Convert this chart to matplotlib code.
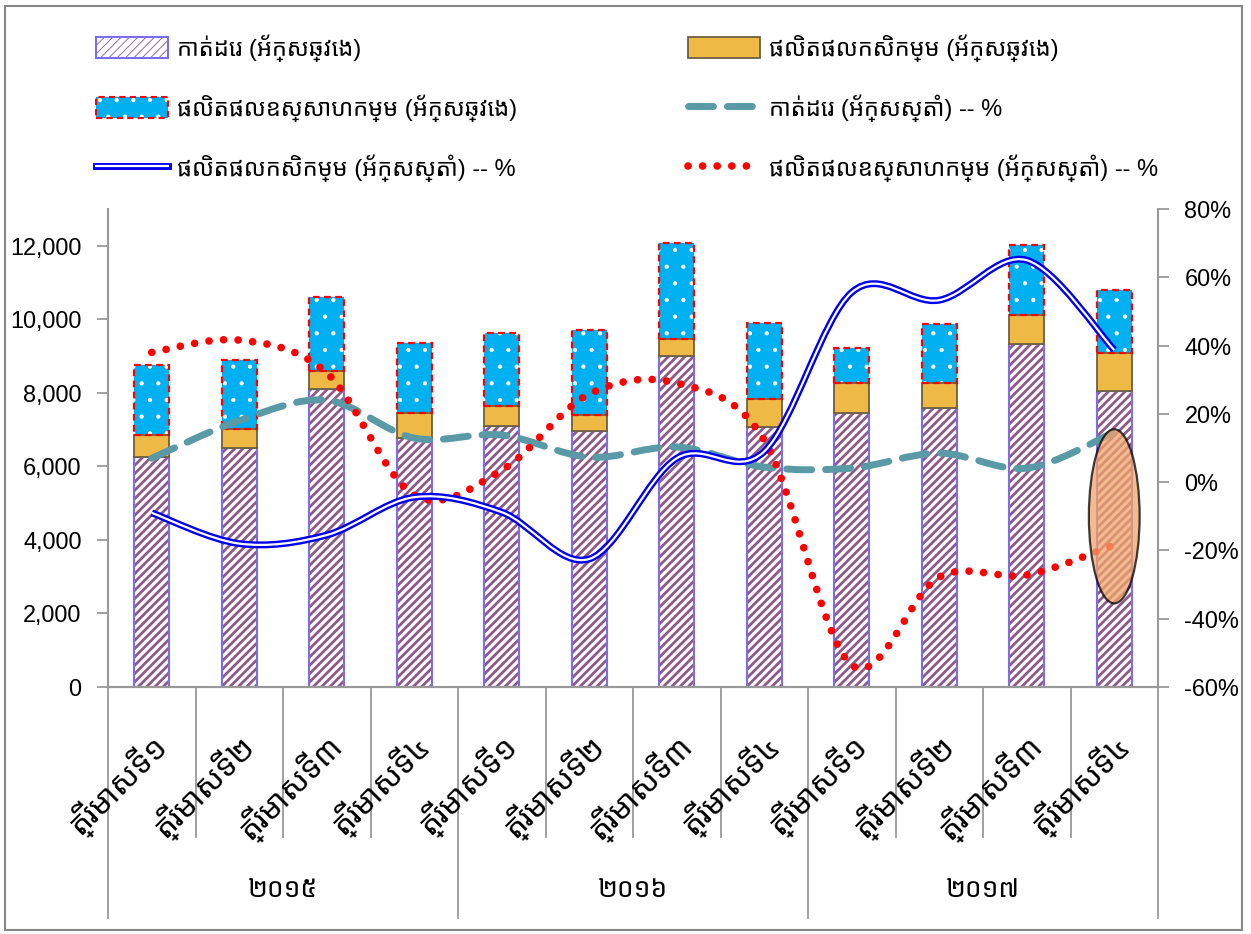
import numpy as np
import matplotlib
matplotlib.use("Agg")
import matplotlib.pyplot as plt
from matplotlib import font_manager
from matplotlib.path import Path
from matplotlib.patches import PathPatch, Patch, Ellipse, Rectangle
from matplotlib.lines import Line2D
from matplotlib.legend_handler import HandlerTuple
import matplotlib.patheffects as pe
from matplotlib.ticker import FuncFormatter, MultipleLocator

# data
quarters = ["ត្រីមាសទី១", "ត្រីមាសទី២", "ត្រីមាសទី៣", "ត្រីមាសទី៤"] * 3
years = ["២០១៥", "២០១៦", "២០១៧"]

garment = [6250, 6510, 8110, 6780, 7110, 6970, 9010, 7080, 7440, 7600, 9340, 8060]
agri = [600, 520, 490, 680, 540, 440, 460, 740, 840, 680, 790, 1030]
industry = [1900, 1850, 2010, 1900, 1980, 2310, 2600, 2090, 950, 1600, 1900, 1710]

garment_g = [7, 18, 24, 12.9, 13.8, 7.3, 10.3, 4.4, 4.1, 8.5, 4.1, 14.6]
agri_g = [-9, -18, -15.5, -4.4, -8.8, -22.5, 7, 9, 55.6, 53.3, 65, 38.7]
industry_g = [38, 41.6, 32, -3.8, 3.5, 25.8, 29, 12.3, -53.6, -27.8, -27.2, -18.4]

labels = ["កាត់ដេរ (អ័ក្សឆ្វេង)", "ផលិតផលកសិកម្ម (អ័ក្សឆ្វេង)",
          "ផលិតផលឧស្សាហកម្ម (អ័ក្សឆ្វេង)", "កាត់ដេរ (អ័ក្សស្តាំ) -- %",
          "ផលិតផលកសិកម្ម (អ័ក្សស្តាំ) -- %", "ផលិតផលឧស្សាហកម្ម (អ័ក្សស្តាំ) -- %"]


def find_khmer_font():
    try:
        from fontTools.ttLib import TTFont
    except ImportError:
        return None
    found = []
    for path in font_manager.findSystemFonts():
        try:
            f = TTFont(path, fontNumber=0, lazy=True)
            cmap = f.getBestCmap()
            if cmap and 0x1780 in cmap:
                found.append(path)
        except Exception:
            continue
    if not found:
        return None

    def rank(p):
        low = p.lower()
        score = 0
        if "khmer" in low:
            score -= 10
        if "sans" in low:
            score -= 2
        if "bold" in low or "mono" in low or "unifont" in low:
            score += 5
        return score

    path = sorted(found, key=rank)[0]
    font_manager.fontManager.addfont(path)
    return font_manager.FontProperties(fname=path).get_name()


def installed(name):
    try:
        font_manager.findfont(name, fallback_to_default=False)
        return True
    except Exception:
        return False


khmer = find_khmer_font()
fams = [f for f in ("Liberation Sans Narrow", "Liberation Sans") if installed(f)][:1]
if khmer:
    fams.append(khmer)
fams.append("DejaVu Sans")
plt.rcParams["font.family"] = fams


def smooth_path(xs, ys):
    # Excel-like smoothed line as cubic bezier segments through the points
    pts = np.column_stack([xs, ys]).astype(float)
    n = len(pts)
    verts = [pts[0]]
    codes = [Path.MOVETO]
    for i in range(n - 1):
        p0 = pts[i - 1] if i > 0 else pts[i]
        p1, p2 = pts[i], pts[i + 1]
        p3 = pts[i + 2] if i + 2 < n else pts[i + 1]
        verts += [p1 + (p2 - p0) / 6.0, p2 - (p3 - p1) / 6.0, p2]
        codes += [Path.CURVE4] * 3
    return Path(verts, codes)


W, H = 1251, 934
fig = plt.figure(figsize=(W / 100, H / 100), dpi=100)
renderer = fig.canvas.get_renderer()


def fit_size(s, target_px, base=18.0, lo=8.0, hi=24.0):
    # font size that makes the text about as wide as in the reference
    t = fig.text(0, 0, s, fontsize=base)
    w = t.get_window_extent(renderer).width
    t.remove()
    return float(np.clip(base * target_px / max(w, 1), lo, hi))


ax = fig.add_axes([108 / W, 1 - 687 / H, 1050 / W, 478 / H])
ax2 = ax.twinx()

x = np.arange(len(garment))
bw = 0.4
garment_c = "#8E5A8A"
hatch_edge = "#7B6CF0"
agri_c = "#EFB946"
agri_edge = "#6E6040"
ind_c = "#00B0F0"

b1 = np.array(garment)
b2 = b1 + np.array(agri)

# garment: hatched, blue outline
plt.rcParams["hatch.linewidth"] = 2.0
ax.bar(x, garment, bw, color="white", edgecolor=garment_c, hatch="////", lw=0, zorder=2)
h_garment_fill = Patch(facecolor="white", edgecolor=garment_c, hatch="////", lw=0)
ax.bar(x, garment, bw, fill=False, edgecolor=hatch_edge, lw=1.5, zorder=3)
# agriculture
ax.bar(x, agri, bw, bottom=b1, color=agri_c, edgecolor=agri_edge, lw=1.3, zorder=3)
# industry: dotted fill with red dashed edge
plt.rcParams["hatch.linewidth"] = 0.6
ax.bar(x, industry, bw, bottom=b2, color=ind_c, edgecolor="white", hatch=".", lw=0, zorder=2)
h_ind_fill = Patch(facecolor=ind_c, edgecolor="white", hatch=".", lw=0)
ax.bar(x, industry, bw, bottom=b2, fill=False, edgecolor="red", lw=1.6,
       linestyle=(0, (3, 2)), zorder=3)

ax.set_xlim(-0.5, len(x) - 0.5)
ax.set_ylim(0, 13000)
ax.yaxis.set_major_locator(MultipleLocator(2000))
ax.yaxis.set_major_formatter(FuncFormatter(lambda v, p: f"{v:,.0f}"))
ax2.set_ylim(-60, 80)
ax2.yaxis.set_major_locator(MultipleLocator(20))
ax2.yaxis.set_major_formatter(FuncFormatter(lambda v, p: f"{v:.0f}%"))

grey = "#999999"
tick_fs = fit_size("12,000", 72, base=18, hi=21)
for a in (ax, ax2):
    a.spines["top"].set_visible(False)
    for s in ("left", "right", "bottom"):
        a.spines[s].set_color(grey)
        a.spines[s].set_linewidth(1.5)
    a.tick_params(axis="y", colors=grey, labelcolor="black", labelsize=tick_fs,
                  length=8, width=1.3, pad=11)
ax.spines["right"].set_visible(False)
ax2.spines["left"].set_visible(False)
ax.set_xticks([])

# growth lines on the right axis
teal_c = "#5A9AA6"
ax2.add_patch(PathPatch(smooth_path(x, garment_g), fill=False, edgecolor=teal_c, lw=5,
                        linestyle=(0, (3.6, 2)), capstyle="round",
                        transform=ax2.transData, zorder=4))
ax2.add_patch(PathPatch(smooth_path(x, industry_g), fill=False, edgecolor="red", lw=5.5,
                        linestyle=(0, (0.01, 1.9)), capstyle="round",
                        transform=ax2.transData, zorder=4))
dbl = [pe.Stroke(linewidth=5, foreground="#0000EE"), pe.Stroke(linewidth=1.6, foreground="white")]
ax2.add_patch(PathPatch(smooth_path(x, agri_g), fill=False, edgecolor="#0000EE", lw=5,
                        transform=ax2.transData, zorder=5, path_effects=dbl))

# highlight ellipse on the last quarter
ax2.add_patch(Ellipse((11, -10), 0.58, 51, facecolor="#F2A46A", alpha=0.75,
                      edgecolor="black", lw=1.6, zorder=6))

# two-level category axis
xt = ax.get_xaxis_transform()
q_fs = fit_size(quarters[0], 126)
for i, q in enumerate(quarters):
    ax.text(i + 0.12, -0.11, q, transform=xt, rotation=45, rotation_mode="anchor",
            ha="right", va="center", fontsize=q_fs)
for i in range(len(x) + 1):
    xb = i - 0.5
    y_end = -0.483 if i % 4 == 0 else -0.314
    ax.plot([xb, xb], [0, y_end], transform=xt, color=grey, lw=1.3, clip_on=False)
y_fs = fit_size(years[0], 70)
for k, yr in enumerate(years):
    ax.text(4 * k + 1.5, -0.425, yr, transform=xt, ha="center", va="center", fontsize=y_fs)

# legend: one entry per slot, placed like the reference
h_garment = (h_garment_fill, Patch(fill=False, edgecolor=hatch_edge, lw=1.5))
h_agri = Patch(facecolor=agri_c, edgecolor=agri_edge, lw=1.3)
h_ind = (h_ind_fill, Patch(fill=False, edgecolor="red", lw=1.5, linestyle=(0, (3, 2))))
h_teal = Line2D([], [], color=teal_c, lw=5, linestyle=(0, (3.6, 2)), dash_capstyle="round")
h_blue = Line2D([], [], color="#0000EE", lw=5, path_effects=dbl)
h_red = Line2D([], [], color="red", lw=5.5, linestyle=(0, (0.01, 1.9)), dash_capstyle="round")

leg_fs = fit_size(labels[5], 390)
slots = [(h_garment, labels[0], 96, 48), (h_agri, labels[1], 688, 48),
         (h_ind, labels[2], 96, 108), (h_teal, labels[3], 688, 108),
         (h_blue, labels[4], 96, 168), (h_red, labels[5], 688, 168)]
for h, lab, px, py in slots:
    fig.legend([h], [lab], loc="center left", bbox_to_anchor=(px / W, 1 - py / H),
               frameon=False, fontsize=leg_fs, handlelength=72 / (leg_fs * 100 / 72),
               handleheight=24 / (leg_fs * 100 / 72), handletextpad=0.4, borderaxespad=0,
               borderpad=0, handler_map={tuple: HandlerTuple(ndivide=1, pad=0)})

# outer frame
fig.patches.append(Rectangle((5 / W, 4 / H), 1237 / W, 924 / H, transform=fig.transFigure,
                             fill=False, edgecolor="#888888", lw=1.5))

fig.savefig("out.png", dpi=100)
